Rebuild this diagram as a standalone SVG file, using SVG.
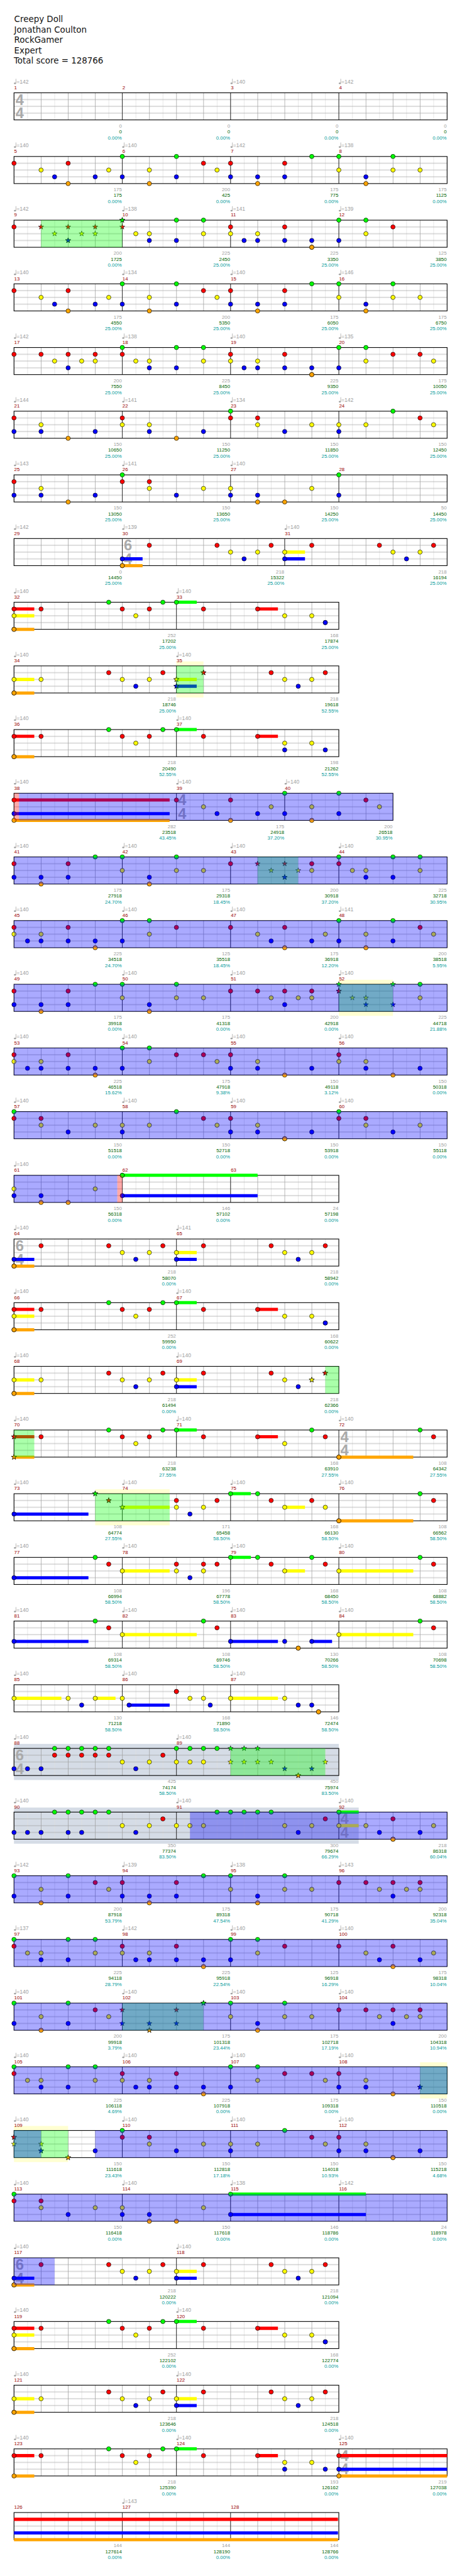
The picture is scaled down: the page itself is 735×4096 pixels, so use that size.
<svg xmlns="http://www.w3.org/2000/svg" width="735" height="4096" viewBox="0 0 735 4096">
<defs>
<style>
text{font-family:"Liberation Sans",Arial,sans-serif}
.ti{font-family:"DejaVu Sans",Verdana,sans-serif;font-size:18.7px;fill:#111}
.tp{font-size:12px;fill:#a0a0a0}
.mn{font-size:11px;fill:#990000}
.s{font-size:11px;fill:#a0a0a0;text-anchor:end}
.s2{fill:#006400}
.s3{fill:#009a9a}
.ts{font-size:33px;font-weight:bold;fill:#aaa}
.st{fill:url(#grid);stroke:#000;stroke-width:1.5}
.ml{fill:none;stroke:#000;stroke-width:1}
.ob{fill:#00f;fill-opacity:.333}
.og{fill:#0f0;fill-opacity:.333}
.or{fill:#f00;fill-opacity:.333}
.by{fill:#ffffd2}
.bs{fill:#d5dce6}
.bw{fill:#fff}
.u{fill:none;stroke-width:7}
.uG{stroke:#0f0}.uR{stroke:#f00}.uY{stroke:#ff0}.uB{stroke:#00f}.uO{stroke:#ffa500}
polyline{fill:none;stroke:none}
.cg{marker-start:url(#mcg);marker-mid:url(#mcg);marker-end:url(#mcg)}
.cr{marker-start:url(#mcr);marker-mid:url(#mcr);marker-end:url(#mcr)}
.cy{marker-start:url(#mcy);marker-mid:url(#mcy);marker-end:url(#mcy)}
.cb{marker-start:url(#mcb);marker-mid:url(#mcb);marker-end:url(#mcb)}
.co{marker-start:url(#mco);marker-mid:url(#mco);marker-end:url(#mco)}
.sg{marker-start:url(#msg);marker-mid:url(#msg);marker-end:url(#msg)}
.sr{marker-start:url(#msr);marker-mid:url(#msr);marker-end:url(#msr)}
.sy{marker-start:url(#msy);marker-mid:url(#msy);marker-end:url(#msy)}
.sb{marker-start:url(#msb);marker-mid:url(#msb);marker-end:url(#msb)}
.so{marker-start:url(#mso);marker-mid:url(#mso);marker-end:url(#mso)}
</style>
<pattern id="grid" patternUnits="userSpaceOnUse" x="30.5" y="0" width="60" height="60">
<rect x="30" width="1" height="60" fill="#dedede"/>
<rect width="1" height="60" fill="#9a9a9a"/>
<rect y="14.5" width="60" height="1" fill="#a0a0a0"/>
<rect y="29.5" width="60" height="1" fill="#a0a0a0"/>
<rect y="44.5" width="60" height="1" fill="#a0a0a0"/>
</pattern>
<g id="q" fill="#a0a0a0"><ellipse cx="2.2" cy="-21" rx="2.4" ry="1.8"/><rect x="3.7" y="-31" width="1" height="10"/></g>
<polygon id="star" points="0,-6 1.41,-1.94 5.71,-1.85 2.28,0.74 3.53,4.85 0,2.4 -3.53,4.85 -2.28,0.74 -5.71,-1.85 -1.41,-1.94" stroke="#000" stroke-width=".8"/>
<marker id="mcg" markerUnits="userSpaceOnUse" markerWidth="14" markerHeight="14" refX="7" refY="7" overflow="visible"><circle cx="7" cy="7" r="4.8" fill="#0f0" stroke="#000" stroke-width=".9"/></marker>
<marker id="mcr" markerUnits="userSpaceOnUse" markerWidth="14" markerHeight="14" refX="7" refY="7" overflow="visible"><circle cx="7" cy="7" r="4.8" fill="#f00" stroke="#000" stroke-width=".9"/></marker>
<marker id="mcy" markerUnits="userSpaceOnUse" markerWidth="14" markerHeight="14" refX="7" refY="7" overflow="visible"><circle cx="7" cy="7" r="4.8" fill="#ff0" stroke="#000" stroke-width=".9"/></marker>
<marker id="mcb" markerUnits="userSpaceOnUse" markerWidth="14" markerHeight="14" refX="7" refY="7" overflow="visible"><circle cx="7" cy="7" r="4.8" fill="#00f" stroke="#000" stroke-width=".9"/></marker>
<marker id="mco" markerUnits="userSpaceOnUse" markerWidth="14" markerHeight="14" refX="7" refY="7" overflow="visible"><circle cx="7" cy="7" r="4.8" fill="#ffa500" stroke="#000" stroke-width=".9"/></marker>
<marker id="msg" markerUnits="userSpaceOnUse" markerWidth="14" markerHeight="14" refX="7" refY="7" overflow="visible"><use href="#star" x="7" y="7" fill="#0f0"/></marker>
<marker id="msr" markerUnits="userSpaceOnUse" markerWidth="14" markerHeight="14" refX="7" refY="7" overflow="visible"><use href="#star" x="7" y="7" fill="#f00"/></marker>
<marker id="msy" markerUnits="userSpaceOnUse" markerWidth="14" markerHeight="14" refX="7" refY="7" overflow="visible"><use href="#star" x="7" y="7" fill="#ff0"/></marker>
<marker id="msb" markerUnits="userSpaceOnUse" markerWidth="14" markerHeight="14" refX="7" refY="7" overflow="visible"><use href="#star" x="7" y="7" fill="#00f"/></marker>
<marker id="mso" markerUnits="userSpaceOnUse" markerWidth="14" markerHeight="14" refX="7" refY="7" overflow="visible"><use href="#star" x="7" y="7" fill="#ffa500"/></marker>
</defs>
<rect width="735" height="4096" fill="#fff"/>
<g transform="scale(0.71777,0.71809)">
<g id="title">
<text class="ti" x="31.5" y="49.3">Creepy Doll</text>
<text class="ti" x="31.5" y="72.3">Jonathan Coulton</text>
<text class="ti" x="31.5" y="95.3">RockGamer</text>
<text class="ti" x="31.5" y="118.3">Expert</text>
<text class="ti" x="30.5" y="141.3">Total score = 128766</text>
</g>

<g id="row1" transform="translate(0,205.5)">
<rect class="st" x="31" width="960" height="60"/>
<path class="ml" d="M271 0V60M511 0V60M751 0V60"/>
<text class="ts" x="34.5" y="26.5">4</text><text class="ts" x="34.5" y="56.5">4</text>
<use href="#q" x="31"/><use href="#q" x="511"/><use href="#q" x="751"/>
<text class="tp" y="-20.7"><tspan x="36.5">=142</tspan><tspan x="516.5">=140</tspan><tspan x="756.5">=142</tspan></text>
<text class="mn" y="-8"><tspan x="31.5">1</tspan><tspan x="271.5">2</tspan><tspan x="511.5">3</tspan><tspan x="751.5">4</tspan></text>
<text class="s" y="77"><tspan x="270">0</tspan><tspan x="510">0</tspan><tspan x="750">0</tspan><tspan x="990">0</tspan></text>
<text class="s s2" y="90"><tspan x="270">0</tspan><tspan x="510">0</tspan><tspan x="750">0</tspan><tspan x="990">0</tspan></text>
<text class="s s3" y="103"><tspan x="270">0.00%</tspan><tspan x="510">0.00%</tspan><tspan x="750">0.00%</tspan><tspan x="990">0.00%</tspan></text>
</g>

<g id="row2" transform="translate(0,346.5)">
<rect class="st" x="31" width="960" height="60"/>
<path class="ml" d="M271 0V60M511 0V60M751 0V60"/>
<polyline class="cg" points="271,0 391,0 691,0 751,0 871,0"/>
<polyline class="cr" points="31,15 151,15 451,15 511,15 631,15"/>
<polyline class="cy" points="91,30 241,30 331,30 481,30 751,30 871,30 931,30"/>
<polyline class="cb" points="121,45 211,45 271,45 391,45 511,45 571,45 631,45 811,45"/>
<polyline class="co" points="151,60 331,60 571,60 811,60"/>
<use href="#q" x="31"/><use href="#q" x="271"/><use href="#q" x="511"/><use href="#q" x="751"/>
<text class="tp" y="-20.7"><tspan x="36.5">=140</tspan><tspan x="276.5">=140</tspan><tspan x="516.5">=142</tspan><tspan x="756.5">=138</tspan></text>
<text class="mn" y="-8"><tspan x="31.5">5</tspan><tspan x="271.5">6</tspan><tspan x="511.5">7</tspan><tspan x="751.5">8</tspan></text>
<text class="s" y="77"><tspan x="270">175</tspan><tspan x="510">200</tspan><tspan x="750">175</tspan><tspan x="990">175</tspan></text>
<text class="s s2" y="90"><tspan x="270">175</tspan><tspan x="510">425</tspan><tspan x="750">775</tspan><tspan x="990">1125</tspan></text>
<text class="s s3" y="103"><tspan x="270">0.00%</tspan><tspan x="510">0.00%</tspan><tspan x="750">0.00%</tspan><tspan x="990">0.00%</tspan></text>
</g>

<g id="row3" transform="translate(0,487.5)">
<rect class="st" x="31" width="960" height="60"/>
<path class="ml" d="M271 0V60M511 0V60M751 0V60"/>
<polyline class="cg" points="391,0 451,0 751,0 811,0"/>
<polyline class="cr" points="31,15 511,15 631,15 871,15"/>
<polyline class="cy" points="301,30 331,30 451,30 511,30 571,30 811,30"/>
<polyline class="cb" points="331,45 391,45 541,45 571,45 631,45 691,45 751,45"/>
<polyline class="co" points="691,60 691,60"/>
<polyline class="sg" points="271,0 271,0"/>
<polyline class="sr" points="91,15 151,15 211,15 271,15"/>
<polyline class="sy" points="121,30 181,30 211,30"/>
<polyline class="sb" points="151,45 151,45"/>
<rect class="og" x="91" width="180" height="60"/>
<use href="#q" x="31"/><use href="#q" x="271"/><use href="#q" x="511"/><use href="#q" x="751"/>
<text class="tp" y="-20.7"><tspan x="36.5">=142</tspan><tspan x="276.5">=138</tspan><tspan x="516.5">=141</tspan><tspan x="756.5">=139</tspan></text>
<text class="mn" y="-8"><tspan x="31.5">9</tspan><tspan x="271.5">10</tspan><tspan x="511.5">11</tspan><tspan x="751.5">12</tspan></text>
<text class="s" y="77"><tspan x="270">200</tspan><tspan x="510">225</tspan><tspan x="750">225</tspan><tspan x="990">125</tspan></text>
<text class="s s2" y="90"><tspan x="270">1725</tspan><tspan x="510">2450</tspan><tspan x="750">3350</tspan><tspan x="990">3850</tspan></text>
<text class="s s3" y="103"><tspan x="270">0.00%</tspan><tspan x="510">25.00%</tspan><tspan x="750">25.00%</tspan><tspan x="990">25.00%</tspan></text>
</g>

<g id="row4" transform="translate(0,628.5)">
<rect class="st" x="31" width="960" height="60"/>
<path class="ml" d="M271 0V60M511 0V60M751 0V60"/>
<polyline class="cg" points="271,0 391,0 691,0 751,0 871,0"/>
<polyline class="cr" points="31,15 151,15 451,15 511,15 631,15"/>
<polyline class="cy" points="91,30 241,30 331,30 481,30 751,30 871,30 931,30"/>
<polyline class="cb" points="121,45 211,45 271,45 391,45 511,45 571,45 631,45 811,45"/>
<polyline class="co" points="151,60 331,60 571,60 811,60"/>
<use href="#q" x="31"/><use href="#q" x="271"/><use href="#q" x="511"/><use href="#q" x="751"/>
<text class="tp" y="-20.7"><tspan x="36.5">=140</tspan><tspan x="276.5">=134</tspan><tspan x="516.5">=140</tspan><tspan x="756.5">=146</tspan></text>
<text class="mn" y="-8"><tspan x="31.5">13</tspan><tspan x="271.5">14</tspan><tspan x="511.5">15</tspan><tspan x="751.5">16</tspan></text>
<text class="s" y="77"><tspan x="270">175</tspan><tspan x="510">200</tspan><tspan x="750">175</tspan><tspan x="990">175</tspan></text>
<text class="s s2" y="90"><tspan x="270">4550</tspan><tspan x="510">5350</tspan><tspan x="750">6050</tspan><tspan x="990">6750</tspan></text>
<text class="s s3" y="103"><tspan x="270">25.00%</tspan><tspan x="510">25.00%</tspan><tspan x="750">25.00%</tspan><tspan x="990">25.00%</tspan></text>
</g>

<g id="row5" transform="translate(0,769.5)">
<rect class="st" x="31" width="960" height="60"/>
<path class="ml" d="M271 0V60M511 0V60M751 0V60"/>
<polyline class="cg" points="271,0 391,0 451,0 751,0 811,0"/>
<polyline class="cr" points="31,15 91,15 151,15 211,15 271,15 511,15 631,15 871,15 931,15"/>
<polyline class="cy" points="121,30 181,30 211,30 301,30 331,30 451,30 511,30 571,30 811,30 961,30"/>
<polyline class="cb" points="151,45 331,45 391,45 541,45 571,45 631,45 691,45 751,45"/>
<polyline class="co" points="691,60 691,60"/>
<use href="#q" x="31"/><use href="#q" x="271"/><use href="#q" x="511"/><use href="#q" x="751"/>
<text class="tp" y="-20.7"><tspan x="36.5">=142</tspan><tspan x="276.5">=138</tspan><tspan x="516.5">=140</tspan><tspan x="756.5">=135</tspan></text>
<text class="mn" y="-8"><tspan x="31.5">17</tspan><tspan x="271.5">18</tspan><tspan x="511.5">19</tspan><tspan x="751.5">20</tspan></text>
<text class="s" y="77"><tspan x="270">200</tspan><tspan x="510">225</tspan><tspan x="750">225</tspan><tspan x="990">175</tspan></text>
<text class="s s2" y="90"><tspan x="270">7550</tspan><tspan x="510">8450</tspan><tspan x="750">9350</tspan><tspan x="990">10050</tspan></text>
<text class="s s3" y="103"><tspan x="270">25.00%</tspan><tspan x="510">25.00%</tspan><tspan x="750">25.00%</tspan><tspan x="990">25.00%</tspan></text>
</g>

<g id="row6" transform="translate(0,910.5)">
<rect class="st" x="31" width="960" height="60"/>
<path class="ml" d="M271 0V60M511 0V60M751 0V60"/>
<polyline class="cg" points="511,0 871,0"/>
<polyline class="cr" points="31,15 271,15 511,15 571,15 931,15"/>
<polyline class="cy" points="91,30 271,30 331,30 571,30 691,30 751,30 811,30 961,30"/>
<polyline class="cb" points="31,45 91,45 211,45 331,45 451,45 631,45 751,45"/>
<polyline class="co" points="151,60 391,60"/>
<use href="#q" x="31"/><use href="#q" x="271"/><use href="#q" x="511"/><use href="#q" x="751"/>
<text class="tp" y="-20.7"><tspan x="36.5">=144</tspan><tspan x="276.5">=141</tspan><tspan x="516.5">=134</tspan><tspan x="756.5">=142</tspan></text>
<text class="mn" y="-8"><tspan x="31.5">21</tspan><tspan x="271.5">22</tspan><tspan x="511.5">23</tspan><tspan x="751.5">24</tspan></text>
<text class="s" y="77"><tspan x="270">150</tspan><tspan x="510">150</tspan><tspan x="750">150</tspan><tspan x="990">150</tspan></text>
<text class="s s2" y="90"><tspan x="270">10650</tspan><tspan x="510">11250</tspan><tspan x="750">11850</tspan><tspan x="990">12450</tspan></text>
<text class="s s3" y="103"><tspan x="270">25.00%</tspan><tspan x="510">25.00%</tspan><tspan x="750">25.00%</tspan><tspan x="990">25.00%</tspan></text>
</g>

<g id="row7" transform="translate(0,1051.5)">
<rect class="st" x="31" width="960" height="60"/>
<path class="ml" d="M271 0V60M511 0V60M751 0V60"/>
<polyline class="cg" points="271,0 751,0"/>
<polyline class="cr" points="31,15 271,15 331,15"/>
<polyline class="cy" points="91,30 331,30 451,30 511,30 691,30"/>
<polyline class="cb" points="31,45 91,45 211,45 391,45 511,45 571,45 751,45"/>
<polyline class="co" points="151,60 571,60 631,60"/>
<use href="#q" x="31"/><use href="#q" x="271"/><use href="#q" x="511"/>
<text class="tp" y="-20.7"><tspan x="36.5">=143</tspan><tspan x="276.5">=141</tspan><tspan x="516.5">=140</tspan></text>
<text class="mn" y="-8"><tspan x="31.5">25</tspan><tspan x="271.5">26</tspan><tspan x="511.5">27</tspan><tspan x="751.5">28</tspan></text>
<text class="s" y="77"><tspan x="270">150</tspan><tspan x="510">150</tspan><tspan x="750">150</tspan><tspan x="990">50</tspan></text>
<text class="s s2" y="90"><tspan x="270">13050</tspan><tspan x="510">13650</tspan><tspan x="750">14250</tspan><tspan x="990">14450</tspan></text>
<text class="s s3" y="103"><tspan x="270">25.00%</tspan><tspan x="510">25.00%</tspan><tspan x="750">25.00%</tspan><tspan x="990">25.00%</tspan></text>
</g>

<g id="row8" transform="translate(0,1192.5)">
<rect class="st" x="31" width="960" height="60"/>
<path class="ml" d="M271 0V60M631 0V60"/>
<text class="ts" x="274.5" y="26.5">6</text><text class="ts" x="274.5" y="56.5">4</text>
<path class="u uY" d="M631 30h45"/>
<path class="u uB" d="M271 45h45M631 45h45"/>
<path class="u uO" d="M271 60h45"/>
<polyline class="cr" points="331,15 481,15 601,15 691,15 841,15 961,15"/>
<polyline class="cy" points="511,30 571,30 631,30 871,30 931,30"/>
<polyline class="cb" points="271,45 541,45 631,45 901,45"/>
<polyline class="co" points="271,60 271,60"/>
<use href="#q" x="31"/><use href="#q" x="271"/><use href="#q" x="631"/>
<text class="tp" y="-20.7"><tspan x="36.5">=142</tspan><tspan x="276.5">=139</tspan><tspan x="636.5">=140</tspan></text>
<text class="mn" y="-8"><tspan x="31.5">29</tspan><tspan x="271.5">30</tspan><tspan x="631.5">31</tspan></text>
<text class="s" y="77"><tspan x="270">0</tspan><tspan x="630">218</tspan><tspan x="990">218</tspan></text>
<text class="s s2" y="90"><tspan x="270">14450</tspan><tspan x="630">15322</tspan><tspan x="990">16194</tspan></text>
<text class="s s3" y="103"><tspan x="270">25.00%</tspan><tspan x="630">25.00%</tspan><tspan x="990">25.00%</tspan></text>
</g>

<g id="row9" transform="translate(0,1333.5)">
<rect class="st" x="31" width="720" height="60"/>
<path class="ml" d="M391 0V60"/>
<path class="u uG" d="M391 0h45"/>
<path class="u uR" d="M31 15h45M571 15h45"/>
<path class="u uY" d="M31 30h45"/>
<path class="u uO" d="M31 60h45"/>
<polyline class="cg" points="241,0 361,0 391,0"/>
<polyline class="cr" points="31,15 91,15 271,15 331,15 451,15 571,15"/>
<polyline class="cy" points="31,30 301,30 631,30 691,30"/>
<polyline class="cb" points="721,45 721,45"/>
<polyline class="co" points="31,60 31,60"/>
<use href="#q" x="31"/><use href="#q" x="391"/>
<text class="tp" y="-20.7"><tspan x="36.5">=140</tspan><tspan x="396.5">=140</tspan></text>
<text class="mn" y="-8"><tspan x="31.5">32</tspan><tspan x="391.5">33</tspan></text>
<text class="s" y="77"><tspan x="390">252</tspan><tspan x="750">168</tspan></text>
<text class="s s2" y="90"><tspan x="390">17202</tspan><tspan x="750">17874</tspan></text>
<text class="s s3" y="103"><tspan x="390">25.00%</tspan><tspan x="750">25.00%</tspan></text>
</g>

<g id="row10" transform="translate(0,1474.5)">
<rect class="by" x="391" y="-10" width="60" height="80"/>
<rect class="bw" x="391" width="60" height="60"/>
<rect class="st" x="31" width="720" height="60"/>
<path class="ml" d="M391 0V60"/>
<path class="u uY" d="M31 30h45M391 30h45"/>
<path class="u uB" d="M391 45h45"/>
<path class="u uO" d="M31 60h45"/>
<polyline class="cr" points="241,15 361,15 601,15 721,15"/>
<polyline class="cy" points="31,30 91,30 271,30 331,30 631,30 691,30"/>
<polyline class="cb" points="301,45 661,45"/>
<polyline class="co" points="31,60 31,60"/>
<polyline class="sr" points="451,15 451,15"/>
<polyline class="sy" points="391,30 391,30"/>
<polyline class="sb" points="391,45 391,45"/>
<rect class="og" x="391" width="60" height="60"/>
<use href="#q" x="31"/><use href="#q" x="391"/>
<text class="tp" y="-20.7"><tspan x="36.5">=140</tspan><tspan x="396.5">=140</tspan></text>
<text class="mn" y="-8"><tspan x="31.5">34</tspan><tspan x="391.5">35</tspan></text>
<text class="s" y="77"><tspan x="390">218</tspan><tspan x="750">218</tspan></text>
<text class="s s2" y="90"><tspan x="390">18746</tspan><tspan x="750">19618</tspan></text>
<text class="s s3" y="103"><tspan x="390">25.00%</tspan><tspan x="750">52.55%</tspan></text>
</g>

<g id="row11" transform="translate(0,1615.5)">
<rect class="st" x="31" width="720" height="60"/>
<path class="ml" d="M391 0V60"/>
<path class="u uG" d="M391 0h45"/>
<path class="u uR" d="M31 15h45M571 15h45"/>
<path class="u uO" d="M31 60h45"/>
<polyline class="cg" points="241,0 361,0 391,0"/>
<polyline class="cr" points="31,15 91,15 271,15 331,15 451,15 571,15"/>
<polyline class="cy" points="301,30 631,30 691,30"/>
<polyline class="cb" points="631,45 721,45"/>
<polyline class="co" points="31,60 31,60"/>
<use href="#q" x="31"/><use href="#q" x="391"/>
<text class="tp" y="-20.7"><tspan x="36.5">=140</tspan><tspan x="396.5">=140</tspan></text>
<text class="mn" y="-8"><tspan x="31.5">36</tspan><tspan x="391.5">37</tspan></text>
<text class="s" y="77"><tspan x="390">218</tspan><tspan x="750">198</tspan></text>
<text class="s s2" y="90"><tspan x="390">20490</tspan><tspan x="750">21262</tspan></text>
<text class="s s3" y="103"><tspan x="390">52.55%</tspan><tspan x="750">52.55%</tspan></text>
</g>

<g id="row12" transform="translate(0,1756.5)">
<rect class="st" x="31" width="840" height="60"/>
<path class="ml" d="M391 0V60M631 0V60"/>
<text class="ts" x="394.5" y="26.5">4</text><text class="ts" x="394.5" y="56.5">4</text>
<path class="u uR" d="M31 15h345"/>
<path class="u uB" d="M31 45h345"/>
<path class="u uO" d="M31 60h345"/>
<polyline class="cg" points="631,0 751,0"/>
<polyline class="cr" points="31,15 391,15 511,15 811,15"/>
<polyline class="cy" points="451,30 601,30 691,30 841,30"/>
<polyline class="cb" points="31,45 481,45 571,45 631,45 751,45"/>
<polyline class="co" points="31,60 511,60 691,60"/>
<rect class="or" x="31" width="11" height="60"/>
<rect class="ob" x="42" width="829" height="60"/>
<use href="#q" x="31"/><use href="#q" x="391"/><use href="#q" x="631"/>
<text class="tp" y="-20.7"><tspan x="36.5">=140</tspan><tspan x="396.5">=140</tspan><tspan x="636.5">=140</tspan></text>
<text class="mn" y="-8"><tspan x="31.5">38</tspan><tspan x="391.5">39</tspan><tspan x="631.5">40</tspan></text>
<text class="s" y="77"><tspan x="390">282</tspan><tspan x="630">175</tspan><tspan x="870">200</tspan></text>
<text class="s s2" y="90"><tspan x="390">23518</tspan><tspan x="630">24918</tspan><tspan x="870">26518</tspan></text>
<text class="s s3" y="103"><tspan x="390">43.45%</tspan><tspan x="630">37.20%</tspan><tspan x="870">30.95%</tspan></text>
</g>

<g id="row13" transform="translate(0,1897.5)">
<rect class="st" x="31" width="960" height="60"/>
<path class="ml" d="M271 0V60M511 0V60M751 0V60"/>
<polyline class="cg" points="211,0 271,0 391,0 751,0 871,0 931,0"/>
<polyline class="cr" points="31,15 151,15 511,15 691,15 751,15"/>
<polyline class="cy" points="271,30 391,30 451,30 691,30 781,30 811,30 931,30"/>
<polyline class="cb" points="31,45 91,45 151,45 331,45 811,45 871,45"/>
<polyline class="co" points="91,60 331,60"/>
<polyline class="sr" points="571,15 631,15"/>
<polyline class="sy" points="601,30 661,30"/>
<polyline class="sb" points="631,45 631,45"/>
<rect class="og" x="571" width="90" height="60"/>
<rect class="ob" x="31" width="960" height="60"/>
<use href="#q" x="31"/><use href="#q" x="271"/><use href="#q" x="511"/><use href="#q" x="751"/>
<text class="tp" y="-20.7"><tspan x="36.5">=140</tspan><tspan x="276.5">=140</tspan><tspan x="516.5">=140</tspan><tspan x="756.5">=140</tspan></text>
<text class="mn" y="-8"><tspan x="31.5">41</tspan><tspan x="271.5">42</tspan><tspan x="511.5">43</tspan><tspan x="751.5">44</tspan></text>
<text class="s" y="77"><tspan x="270">175</tspan><tspan x="510">175</tspan><tspan x="750">200</tspan><tspan x="990">225</tspan></text>
<text class="s s2" y="90"><tspan x="270">27918</tspan><tspan x="510">29318</tspan><tspan x="750">30918</tspan><tspan x="990">32718</tspan></text>
<text class="s s3" y="103"><tspan x="270">24.70%</tspan><tspan x="510">18.45%</tspan><tspan x="750">37.20%</tspan><tspan x="990">30.95%</tspan></text>
</g>

<g id="row14" transform="translate(0,2038.5)">
<rect class="st" x="31" width="960" height="60"/>
<path class="ml" d="M271 0V60M511 0V60M751 0V60"/>
<polyline class="cg" points="271,0 331,0 751,0 871,0"/>
<polyline class="cr" points="31,15 151,15 391,15 511,15 631,15 931,15"/>
<polyline class="cy" points="31,30 91,30 331,30 571,30 721,30 811,30 961,30"/>
<polyline class="cb" points="61,45 91,45 151,45 211,45 271,45 601,45 691,45 751,45 871,45"/>
<polyline class="co" points="211,60 631,60 811,60"/>
<rect class="ob" x="31" width="960" height="60"/>
<use href="#q" x="31"/><use href="#q" x="271"/><use href="#q" x="511"/><use href="#q" x="751"/>
<text class="tp" y="-20.7"><tspan x="36.5">=140</tspan><tspan x="276.5">=140</tspan><tspan x="516.5">=140</tspan><tspan x="756.5">=141</tspan></text>
<text class="mn" y="-8"><tspan x="31.5">45</tspan><tspan x="271.5">46</tspan><tspan x="511.5">47</tspan><tspan x="751.5">48</tspan></text>
<text class="s" y="77"><tspan x="270">225</tspan><tspan x="510">125</tspan><tspan x="750">175</tspan><tspan x="990">200</tspan></text>
<text class="s s2" y="90"><tspan x="270">34518</tspan><tspan x="510">35518</tspan><tspan x="750">36918</tspan><tspan x="990">38518</tspan></text>
<text class="s s3" y="103"><tspan x="270">24.70%</tspan><tspan x="510">18.45%</tspan><tspan x="750">12.20%</tspan><tspan x="990">5.95%</tspan></text>
</g>

<g id="row15" transform="translate(0,2179.5)">
<rect class="by" x="751" y="-10" width="120" height="80"/>
<rect class="bw" x="751" width="120" height="60"/>
<rect class="st" x="31" width="960" height="60"/>
<path class="ml" d="M271 0V60M511 0V60M751 0V60"/>
<polyline class="cg" points="211,0 271,0 391,0 931,0"/>
<polyline class="cr" points="31,15 151,15 511,15 571,15 631,15 691,15"/>
<polyline class="cy" points="271,30 391,30 451,30 601,30 661,30 691,30 931,30"/>
<polyline class="cb" points="31,45 91,45 151,45 331,45 631,45"/>
<polyline class="co" points="91,60 331,60"/>
<polyline class="sg" points="751,0 871,0"/>
<polyline class="sr" points="751,15 751,15"/>
<polyline class="sy" points="781,30 811,30"/>
<polyline class="sb" points="811,45 871,45"/>
<rect class="og" x="751" width="120" height="60"/>
<rect class="ob" x="31" width="960" height="60"/>
<use href="#q" x="31"/><use href="#q" x="271"/><use href="#q" x="511"/><use href="#q" x="751"/>
<text class="tp" y="-20.7"><tspan x="36.5">=140</tspan><tspan x="276.5">=140</tspan><tspan x="516.5">=140</tspan><tspan x="756.5">=140</tspan></text>
<text class="mn" y="-8"><tspan x="31.5">49</tspan><tspan x="271.5">50</tspan><tspan x="511.5">51</tspan><tspan x="751.5">52</tspan></text>
<text class="s" y="77"><tspan x="270">175</tspan><tspan x="510">175</tspan><tspan x="750">200</tspan><tspan x="990">225</tspan></text>
<text class="s s2" y="90"><tspan x="270">39918</tspan><tspan x="510">41318</tspan><tspan x="750">42918</tspan><tspan x="990">44718</tspan></text>
<text class="s s3" y="103"><tspan x="270">0.00%</tspan><tspan x="510">0.00%</tspan><tspan x="750">0.00%</tspan><tspan x="990">21.88%</tspan></text>
</g>

<g id="row16" transform="translate(0,2320.5)">
<rect class="st" x="31" width="960" height="60"/>
<path class="ml" d="M271 0V60M511 0V60M751 0V60"/>
<polyline class="cg" points="271,0 331,0"/>
<polyline class="cr" points="31,15 151,15 391,15 451,15 511,15 751,15"/>
<polyline class="cy" points="31,30 91,30 331,30 481,30 571,30 751,30 811,30"/>
<polyline class="cb" points="61,45 91,45 151,45 211,45 271,45 511,45 571,45 691,45 811,45 931,45"/>
<polyline class="co" points="211,60 631,60 871,60"/>
<rect class="ob" x="31" width="960" height="60"/>
<use href="#q" x="31"/><use href="#q" x="271"/><use href="#q" x="511"/><use href="#q" x="751"/>
<text class="tp" y="-20.7"><tspan x="36.5">=140</tspan><tspan x="276.5">=140</tspan><tspan x="516.5">=140</tspan><tspan x="756.5">=140</tspan></text>
<text class="mn" y="-8"><tspan x="31.5">53</tspan><tspan x="271.5">54</tspan><tspan x="511.5">55</tspan><tspan x="751.5">56</tspan></text>
<text class="s" y="77"><tspan x="270">225</tspan><tspan x="510">175</tspan><tspan x="750">150</tspan><tspan x="990">150</tspan></text>
<text class="s s2" y="90"><tspan x="270">46518</tspan><tspan x="510">47918</tspan><tspan x="750">49118</tspan><tspan x="990">50318</tspan></text>
<text class="s s3" y="103"><tspan x="270">15.62%</tspan><tspan x="510">9.38%</tspan><tspan x="750">3.12%</tspan><tspan x="990">0.00%</tspan></text>
</g>

<g id="row17" transform="translate(0,2461.5)">
<rect class="st" x="31" width="960" height="60"/>
<path class="ml" d="M271 0V60M511 0V60M751 0V60"/>
<polyline class="cg" points="31,0 391,0 751,0"/>
<polyline class="cr" points="31,15 91,15 451,15 511,15 751,15 811,15"/>
<polyline class="cy" points="91,30 211,30 271,30 331,30 481,30 571,30 811,30 931,30"/>
<polyline class="cb" points="151,45 271,45 511,45 571,45 691,45 871,45"/>
<polyline class="co" points="631,60 631,60"/>
<rect class="ob" x="31" width="960" height="60"/>
<use href="#q" x="31"/><use href="#q" x="271"/><use href="#q" x="511"/><use href="#q" x="751"/>
<text class="tp" y="-20.7"><tspan x="36.5">=140</tspan><tspan x="276.5">=140</tspan><tspan x="516.5">=140</tspan><tspan x="756.5">=140</tspan></text>
<text class="mn" y="-8"><tspan x="31.5">57</tspan><tspan x="271.5">58</tspan><tspan x="511.5">59</tspan><tspan x="751.5">60</tspan></text>
<text class="s" y="77"><tspan x="270">150</tspan><tspan x="510">150</tspan><tspan x="750">150</tspan><tspan x="990">150</tspan></text>
<text class="s s2" y="90"><tspan x="270">51518</tspan><tspan x="510">52718</tspan><tspan x="750">53918</tspan><tspan x="990">55118</tspan></text>
<text class="s s3" y="103"><tspan x="270">0.00%</tspan><tspan x="510">0.00%</tspan><tspan x="750">0.00%</tspan><tspan x="990">0.00%</tspan></text>
</g>

<g id="row18" transform="translate(0,2602.5)">
<rect class="st" x="31" width="720" height="60"/>
<path class="ml" d="M271 0V60M511 0V60"/>
<path class="u uG" d="M271 0h300"/>
<path class="u uB" d="M271 45h300"/>
<polyline class="cg" points="271,0 271,0"/>
<polyline class="cy" points="31,30 211,30"/>
<polyline class="cb" points="31,45 91,45 271,45"/>
<polyline class="co" points="91,60 151,60"/>
<rect class="ob" x="31" width="229" height="60"/>
<rect class="or" x="260" width="11" height="60"/>
<use href="#q" x="31"/>
<text class="tp" y="-20.7"><tspan x="36.5">=140</tspan></text>
<text class="mn" y="-8"><tspan x="31.5">61</tspan><tspan x="271.5">62</tspan><tspan x="511.5">63</tspan></text>
<text class="s" y="77"><tspan x="270">150</tspan><tspan x="510">146</tspan><tspan x="750">24</tspan></text>
<text class="s s2" y="90"><tspan x="270">56318</tspan><tspan x="510">57102</tspan><tspan x="750">57198</tspan></text>
<text class="s s3" y="103"><tspan x="270">0.00%</tspan><tspan x="510">0.00%</tspan><tspan x="750">0.00%</tspan></text>
</g>

<g id="row19" transform="translate(0,2743.5)">
<rect class="st" x="31" width="720" height="60"/>
<path class="ml" d="M391 0V60"/>
<text class="ts" x="34.5" y="26.5">6</text><text class="ts" x="34.5" y="56.5">4</text>
<path class="u uY" d="M391 30h45"/>
<path class="u uB" d="M31 45h45M391 45h45"/>
<path class="u uO" d="M31 60h45"/>
<polyline class="cr" points="91,15 241,15 361,15 451,15 601,15 721,15"/>
<polyline class="cy" points="271,30 331,30 391,30 631,30 691,30"/>
<polyline class="cb" points="31,45 301,45 391,45 661,45"/>
<polyline class="co" points="31,60 31,60"/>
<use href="#q" x="31"/><use href="#q" x="391"/>
<text class="tp" y="-20.7"><tspan x="36.5">=140</tspan><tspan x="396.5">=141</tspan></text>
<text class="mn" y="-8"><tspan x="31.5">64</tspan><tspan x="391.5">65</tspan></text>
<text class="s" y="77"><tspan x="390">218</tspan><tspan x="750">218</tspan></text>
<text class="s s2" y="90"><tspan x="390">58070</tspan><tspan x="750">58942</tspan></text>
<text class="s s3" y="103"><tspan x="390">0.00%</tspan><tspan x="750">0.00%</tspan></text>
</g>

<g id="row20" transform="translate(0,2884.5)">
<rect class="st" x="31" width="720" height="60"/>
<path class="ml" d="M391 0V60"/>
<path class="u uG" d="M391 0h45"/>
<path class="u uR" d="M31 15h45M571 15h45"/>
<path class="u uY" d="M31 30h45"/>
<path class="u uO" d="M31 60h45"/>
<polyline class="cg" points="241,0 361,0 391,0"/>
<polyline class="cr" points="31,15 91,15 271,15 331,15 451,15 571,15"/>
<polyline class="cy" points="31,30 301,30 631,30 691,30"/>
<polyline class="cb" points="721,45 721,45"/>
<polyline class="co" points="31,60 31,60"/>
<use href="#q" x="31"/><use href="#q" x="391"/>
<text class="tp" y="-20.7"><tspan x="36.5">=140</tspan><tspan x="396.5">=140</tspan></text>
<text class="mn" y="-8"><tspan x="31.5">66</tspan><tspan x="391.5">67</tspan></text>
<text class="s" y="77"><tspan x="390">252</tspan><tspan x="750">168</tspan></text>
<text class="s s2" y="90"><tspan x="390">59950</tspan><tspan x="750">60622</tspan></text>
<text class="s s3" y="103"><tspan x="390">0.00%</tspan><tspan x="750">0.00%</tspan></text>
</g>

<g id="row21" transform="translate(0,3025.5)">
<rect class="st" x="31" width="720" height="60"/>
<path class="ml" d="M391 0V60"/>
<path class="u uY" d="M31 30h45M391 30h45"/>
<path class="u uB" d="M391 45h45"/>
<path class="u uO" d="M31 60h45"/>
<polyline class="cr" points="241,15 361,15 451,15 601,15"/>
<polyline class="cy" points="31,30 91,30 271,30 331,30 391,30 631,30"/>
<polyline class="cb" points="301,45 391,45 661,45"/>
<polyline class="co" points="31,60 31,60"/>
<polyline class="sr" points="721,15 721,15"/>
<polyline class="sy" points="691,30 691,30"/>
<rect class="og" x="721" width="30" height="60"/>
<use href="#q" x="31"/><use href="#q" x="391"/>
<text class="tp" y="-20.7"><tspan x="36.5">=140</tspan><tspan x="396.5">=140</tspan></text>
<text class="mn" y="-8"><tspan x="31.5">68</tspan><tspan x="391.5">69</tspan></text>
<text class="s" y="77"><tspan x="390">218</tspan><tspan x="750">218</tspan></text>
<text class="s s2" y="90"><tspan x="390">61494</tspan><tspan x="750">62366</tspan></text>
<text class="s s3" y="103"><tspan x="390">0.00%</tspan><tspan x="750">0.00%</tspan></text>
</g>

<g id="row22" transform="translate(0,3166.5)">
<rect class="st" x="31" width="960" height="60"/>
<path class="ml" d="M391 0V60M751 0V60"/>
<text class="ts" x="754.5" y="26.5">4</text><text class="ts" x="754.5" y="56.5">4</text>
<path class="u uG" d="M391 0h45"/>
<path class="u uR" d="M31 15h45M571 15h45"/>
<path class="u uO" d="M31 60h45M751 60h165"/>
<polyline class="cg" points="241,0 361,0 391,0 691,0 931,0"/>
<polyline class="cr" points="91,15 271,15 331,15 451,15 571,15 721,15 961,15"/>
<polyline class="cy" points="301,30 631,30"/>
<polyline class="co" points="751,60 751,60"/>
<polyline class="sr" points="31,15 31,15"/>
<polyline class="so" points="31,60 31,60"/>
<rect class="og" x="31" width="45" height="60"/>
<use href="#q" x="31"/><use href="#q" x="391"/><use href="#q" x="751"/>
<text class="tp" y="-20.7"><tspan x="36.5">=140</tspan><tspan x="396.5">=140</tspan><tspan x="756.5">=140</tspan></text>
<text class="mn" y="-8"><tspan x="31.5">70</tspan><tspan x="391.5">71</tspan><tspan x="751.5">72</tspan></text>
<text class="s" y="77"><tspan x="390">218</tspan><tspan x="750">168</tspan><tspan x="990">108</tspan></text>
<text class="s s2" y="90"><tspan x="390">63238</tspan><tspan x="750">63910</tspan><tspan x="990">64342</tspan></text>
<text class="s s3" y="103"><tspan x="390">27.55%</tspan><tspan x="750">27.55%</tspan><tspan x="990">27.55%</tspan></text>
</g>

<g id="row23" transform="translate(0,3307.5)">
<rect class="by" x="211" y="-10" width="165" height="80"/>
<rect class="bw" x="211" width="165" height="60"/>
<rect class="st" x="31" width="960" height="60"/>
<path class="ml" d="M271 0V60M511 0V60M751 0V60"/>
<path class="u uG" d="M511 0h45"/>
<path class="u uY" d="M271 30h105M631 30h45"/>
<path class="u uB" d="M31 45h165"/>
<path class="u uO" d="M751 60h165"/>
<polyline class="cg" points="511,0 571,0 931,0"/>
<polyline class="cr" points="391,15 481,15 601,15 691,15 961,15"/>
<polyline class="cy" points="391,30 451,30 631,30 721,30"/>
<polyline class="cb" points="31,45 421,45"/>
<polyline class="co" points="751,60 751,60"/>
<polyline class="sg" points="211,0 211,0"/>
<polyline class="sr" points="241,15 241,15"/>
<polyline class="sy" points="271,30 271,30"/>
<rect class="og" x="211" width="165" height="60"/>
<use href="#q" x="31"/><use href="#q" x="271"/><use href="#q" x="511"/><use href="#q" x="751"/>
<text class="tp" y="-20.7"><tspan x="36.5">=140</tspan><tspan x="276.5">=140</tspan><tspan x="516.5">=140</tspan><tspan x="756.5">=140</tspan></text>
<text class="mn" y="-8"><tspan x="31.5">73</tspan><tspan x="271.5">74</tspan><tspan x="511.5">75</tspan><tspan x="751.5">76</tspan></text>
<text class="s" y="77"><tspan x="270">108</tspan><tspan x="510">171</tspan><tspan x="750">168</tspan><tspan x="990">108</tspan></text>
<text class="s s2" y="90"><tspan x="270">64774</tspan><tspan x="510">65458</tspan><tspan x="750">66130</tspan><tspan x="990">66562</tspan></text>
<text class="s s3" y="103"><tspan x="270">27.55%</tspan><tspan x="510">58.50%</tspan><tspan x="750">58.50%</tspan><tspan x="990">58.50%</tspan></text>
</g>

<g id="row24" transform="translate(0,3448.5)">
<rect class="st" x="31" width="960" height="60"/>
<path class="ml" d="M271 0V60M511 0V60M751 0V60"/>
<path class="u uG" d="M511 0h45"/>
<path class="u uY" d="M271 30h105M631 30h45M751 30h165"/>
<path class="u uB" d="M31 45h165"/>
<polyline class="cg" points="211,0 511,0 571,0 691,0 931,0"/>
<polyline class="cr" points="241,15 391,15 451,15 481,15 601,15 721,15 961,15"/>
<polyline class="cy" points="271,30 391,30 451,30 631,30 751,30"/>
<polyline class="cb" points="31,45 421,45"/>
<use href="#q" x="31"/><use href="#q" x="271"/><use href="#q" x="511"/><use href="#q" x="751"/>
<text class="tp" y="-20.7"><tspan x="36.5">=140</tspan><tspan x="276.5">=140</tspan><tspan x="516.5">=140</tspan><tspan x="756.5">=140</tspan></text>
<text class="mn" y="-8"><tspan x="31.5">77</tspan><tspan x="271.5">78</tspan><tspan x="511.5">79</tspan><tspan x="751.5">80</tspan></text>
<text class="s" y="77"><tspan x="270">108</tspan><tspan x="510">196</tspan><tspan x="750">168</tspan><tspan x="990">108</tspan></text>
<text class="s s2" y="90"><tspan x="270">66994</tspan><tspan x="510">67778</tspan><tspan x="750">68450</tspan><tspan x="990">68882</tspan></text>
<text class="s s3" y="103"><tspan x="270">58.50%</tspan><tspan x="510">58.50%</tspan><tspan x="750">58.50%</tspan><tspan x="990">58.50%</tspan></text>
</g>

<g id="row25" transform="translate(0,3589.5)">
<rect class="st" x="31" width="960" height="60"/>
<path class="ml" d="M271 0V60M511 0V60M751 0V60"/>
<path class="u uY" d="M271 30h165M751 30h165"/>
<path class="u uB" d="M31 45h165M511 45h105M691 45h45"/>
<polyline class="cg" points="211,0 451,0 931,0"/>
<polyline class="cr" points="241,15 481,15 961,15"/>
<polyline class="cy" points="271,30 751,30"/>
<polyline class="cb" points="31,45 511,45 631,45 691,45"/>
<polyline class="co" points="661,60 661,60"/>
<use href="#q" x="31"/><use href="#q" x="271"/><use href="#q" x="511"/><use href="#q" x="751"/>
<text class="tp" y="-20.7"><tspan x="36.5">=140</tspan><tspan x="276.5">=140</tspan><tspan x="516.5">=140</tspan><tspan x="756.5">=140</tspan></text>
<text class="mn" y="-8"><tspan x="31.5">81</tspan><tspan x="271.5">82</tspan><tspan x="511.5">83</tspan><tspan x="751.5">84</tspan></text>
<text class="s" y="77"><tspan x="270">108</tspan><tspan x="510">108</tspan><tspan x="750">130</tspan><tspan x="990">108</tspan></text>
<text class="s s2" y="90"><tspan x="270">69314</tspan><tspan x="510">69746</tspan><tspan x="750">70266</tspan><tspan x="990">70698</tspan></text>
<text class="s s3" y="103"><tspan x="270">58.50%</tspan><tspan x="510">58.50%</tspan><tspan x="750">58.50%</tspan><tspan x="990">58.50%</tspan></text>
</g>

<g id="row26" transform="translate(0,3730.5)">
<rect class="st" x="31" width="720" height="60"/>
<path class="ml" d="M271 0V60M511 0V60"/>
<path class="u uY" d="M31 30h105M211 30h45M511 30h105"/>
<path class="u uB" d="M286 45h90"/>
<polyline class="cr" points="391,15 391,15"/>
<polyline class="cy" points="31,30 151,30 211,30 271,30 421,30 451,30 511,30 631,30"/>
<polyline class="cb" points="181,45 286,45 466,45 661,45 691,45"/>
<polyline class="co" points="706,60 706,60"/>
<use href="#q" x="31"/><use href="#q" x="271"/><use href="#q" x="511"/>
<text class="tp" y="-20.7"><tspan x="36.5">=140</tspan><tspan x="276.5">=140</tspan><tspan x="516.5">=140</tspan></text>
<text class="mn" y="-8"><tspan x="31.5">85</tspan><tspan x="271.5">86</tspan><tspan x="511.5">87</tspan></text>
<text class="s" y="77"><tspan x="270">130</tspan><tspan x="510">168</tspan><tspan x="750">146</tspan></text>
<text class="s s2" y="90"><tspan x="270">71218</tspan><tspan x="510">71890</tspan><tspan x="750">72474</tspan></text>
<text class="s s3" y="103"><tspan x="270">58.50%</tspan><tspan x="510">58.50%</tspan><tspan x="750">58.50%</tspan></text>
</g>

<g id="row27" transform="translate(0,3871.5)">
<rect class="bs" x="31" y="-10" width="720" height="80"/>
<rect class="st" x="31" width="720" height="60"/>
<path class="ml" d="M391 0V60"/>
<text class="ts" x="34.5" y="26.5">6</text><text class="ts" x="34.5" y="56.5">4</text>
<polyline class="cg" points="121,0 151,0 181,0 211,0 241,0 391,0 421,0 451,0 481,0"/>
<polyline class="cr" points="121,15 151,15 181,15 211,15 241,15 361,15"/>
<polyline class="cy" points="271,30 331,30 391,30 421,30 451,30"/>
<polyline class="cb" points="31,45 61,45 91,45 301,45"/>
<polyline class="sg" points="511,0 541,0 571,0"/>
<polyline class="sy" points="511,30 541,30 571,30 601,30 721,30"/>
<polyline class="sb" points="631,45 691,45"/>
<polyline class="so" points="661,60 661,60"/>
<rect class="og" x="511" width="210" height="60"/>
<use href="#q" x="31"/><use href="#q" x="391"/>
<text class="tp" y="-20.7"><tspan x="36.5">=140</tspan><tspan x="396.5">=140</tspan></text>
<text class="mn" y="-8"><tspan x="31.5">88</tspan><tspan x="391.5">89</tspan></text>
<text class="s" y="77"><tspan x="390">425</tspan><tspan x="750">450</tspan></text>
<text class="s s2" y="90"><tspan x="390">74174</tspan><tspan x="750">75974</tspan></text>
<text class="s s3" y="103"><tspan x="390">58.50%</tspan><tspan x="750">83.50%</tspan></text>
</g>

<g id="row28" transform="translate(0,4012.5)">
<rect class="bs" x="31" y="-10" width="764" height="80"/>
<rect class="st" x="31" width="960" height="60"/>
<path class="ml" d="M391 0V60M751 0V60"/>
<text class="ts" x="754.5" y="26.5">4</text><text class="ts" x="754.5" y="56.5">4</text>
<path class="u uG" d="M751 0h44"/>
<path class="u uY" d="M751 30h44"/>
<polyline class="cg" points="121,0 151,0 181,0 211,0 241,0 481,0 511,0 541,0 571,0 601,0 751,0"/>
<polyline class="cr" points="361,15 721,15 871,15"/>
<polyline class="cy" points="271,30 331,30 391,30 421,30 451,30 631,30 691,30 751,30 811,30 961,30"/>
<polyline class="cb" points="31,45 61,45 91,45 151,45 181,45 301,45 661,45 841,45 931,45"/>
<polyline class="co" points="871,60 871,60"/>
<rect class="ob" x="421" width="570" height="60"/>
<use href="#q" x="31"/><use href="#q" x="391"/><use href="#q" x="751"/>
<text class="tp" y="-20.7"><tspan x="36.5">=140</tspan><tspan x="396.5">=140</tspan><tspan x="756.5">=140</tspan></text>
<text class="mn" y="-8"><tspan x="31.5">90</tspan><tspan x="391.5">91</tspan><tspan x="751.5">92</tspan></text>
<text class="s" y="77"><tspan x="390">350</tspan><tspan x="750">300</tspan><tspan x="990">218</tspan></text>
<text class="s s2" y="90"><tspan x="390">77374</tspan><tspan x="750">79674</tspan><tspan x="990">86318</tspan></text>
<text class="s s3" y="103"><tspan x="390">83.50%</tspan><tspan x="750">66.29%</tspan><tspan x="990">60.04%</tspan></text>
</g>

<g id="row29" transform="translate(0,4153.5)">
<rect class="st" x="31" width="960" height="60"/>
<path class="ml" d="M271 0V60M511 0V60M751 0V60"/>
<polyline class="cg" points="31,0 151,0 451,0 511,0 631,0"/>
<polyline class="cr" points="211,15 271,15 391,15 751,15 811,15 871,15 931,15"/>
<polyline class="cy" points="91,30 241,30 511,30 631,30 691,30 841,30 901,30 931,30"/>
<polyline class="cb" points="31,45 151,45 271,45 331,45 391,45 571,45 871,45"/>
<polyline class="co" points="91,60 331,60 571,60"/>
<rect class="ob" x="31" width="960" height="60"/>
<use href="#q" x="31"/><use href="#q" x="271"/><use href="#q" x="511"/><use href="#q" x="751"/>
<text class="tp" y="-20.7"><tspan x="36.5">=142</tspan><tspan x="276.5">=139</tspan><tspan x="516.5">=138</tspan><tspan x="756.5">=143</tspan></text>
<text class="mn" y="-8"><tspan x="31.5">93</tspan><tspan x="271.5">94</tspan><tspan x="511.5">95</tspan><tspan x="751.5">96</tspan></text>
<text class="s" y="77"><tspan x="270">200</tspan><tspan x="510">175</tspan><tspan x="750">175</tspan><tspan x="990">200</tspan></text>
<text class="s s2" y="90"><tspan x="270">87918</tspan><tspan x="510">89318</tspan><tspan x="750">90718</tspan><tspan x="990">92318</tspan></text>
<text class="s s3" y="103"><tspan x="270">53.79%</tspan><tspan x="510">47.54%</tspan><tspan x="750">41.29%</tspan><tspan x="990">35.04%</tspan></text>
</g>

<g id="row30" transform="translate(0,4294.5)">
<rect class="st" x="31" width="960" height="60"/>
<path class="ml" d="M271 0V60M511 0V60M751 0V60"/>
<polyline class="cg" points="31,0 151,0 211,0 511,0 571,0"/>
<polyline class="cr" points="31,15 271,15 391,15 631,15 751,15 871,15"/>
<polyline class="cy" points="61,30 91,30 211,30 271,30 331,30 571,30 811,30 961,30"/>
<polyline class="cb" points="91,45 151,45 301,45 331,45 391,45 451,45 511,45 841,45 931,45"/>
<polyline class="co" points="451,60 871,60"/>
<rect class="ob" x="31" width="960" height="60"/>
<use href="#q" x="31"/><use href="#q" x="271"/><use href="#q" x="511"/><use href="#q" x="751"/>
<text class="tp" y="-20.7"><tspan x="36.5">=137</tspan><tspan x="276.5">=142</tspan><tspan x="516.5">=140</tspan><tspan x="756.5">=140</tspan></text>
<text class="mn" y="-8"><tspan x="31.5">97</tspan><tspan x="271.5">98</tspan><tspan x="511.5">99</tspan><tspan x="751.5">100</tspan></text>
<text class="s" y="77"><tspan x="270">225</tspan><tspan x="510">225</tspan><tspan x="750">125</tspan><tspan x="990">175</tspan></text>
<text class="s s2" y="90"><tspan x="270">94118</tspan><tspan x="510">95918</tspan><tspan x="750">96918</tspan><tspan x="990">98318</tspan></text>
<text class="s s3" y="103"><tspan x="270">28.79%</tspan><tspan x="510">22.54%</tspan><tspan x="750">16.29%</tspan><tspan x="990">10.04%</tspan></text>
</g>

<g id="row31" transform="translate(0,4435.5)">
<rect class="st" x="31" width="960" height="60"/>
<path class="ml" d="M271 0V60M511 0V60M751 0V60"/>
<polyline class="cg" points="31,0 151,0 511,0 631,0"/>
<polyline class="cr" points="211,15 751,15 811,15 871,15 931,15"/>
<polyline class="cy" points="91,30 241,30 511,30 631,30 691,30 841,30 901,30 931,30"/>
<polyline class="cb" points="31,45 151,45 571,45 871,45"/>
<polyline class="co" points="91,60 571,60"/>
<polyline class="sg" points="451,0 451,0"/>
<polyline class="sr" points="271,15 391,15"/>
<polyline class="sb" points="271,45 331,45 391,45"/>
<polyline class="so" points="331,60 331,60"/>
<rect class="og" x="271" width="180" height="60"/>
<rect class="ob" x="31" width="960" height="60"/>
<use href="#q" x="31"/><use href="#q" x="271"/><use href="#q" x="511"/><use href="#q" x="751"/>
<text class="tp" y="-20.7"><tspan x="36.5">=140</tspan><tspan x="276.5">=140</tspan><tspan x="516.5">=140</tspan><tspan x="756.5">=140</tspan></text>
<text class="mn" y="-8"><tspan x="31.5">101</tspan><tspan x="271.5">102</tspan><tspan x="511.5">103</tspan><tspan x="751.5">104</tspan></text>
<text class="s" y="77"><tspan x="270">200</tspan><tspan x="510">175</tspan><tspan x="750">175</tspan><tspan x="990">200</tspan></text>
<text class="s s2" y="90"><tspan x="270">99918</tspan><tspan x="510">101318</tspan><tspan x="750">102718</tspan><tspan x="990">104318</tspan></text>
<text class="s s3" y="103"><tspan x="270">3.79%</tspan><tspan x="510">23.44%</tspan><tspan x="750">17.19%</tspan><tspan x="990">10.94%</tspan></text>
</g>

<g id="row32" transform="translate(0,4576.5)">
<rect class="by" x="931" y="-10" width="60" height="80"/>
<rect class="bw" x="931" width="60" height="60"/>
<rect class="st" x="31" width="960" height="60"/>
<path class="ml" d="M271 0V60M511 0V60M751 0V60"/>
<polyline class="cg" points="31,0 151,0 211,0 511,0 571,0"/>
<polyline class="cr" points="31,15 271,15 391,15 631,15 691,15 751,15"/>
<polyline class="cy" points="61,30 91,30 211,30 271,30 331,30 571,30 721,30 811,30"/>
<polyline class="cb" points="91,45 151,45 301,45 331,45 391,45 451,45 511,45 751,45 811,45"/>
<polyline class="co" points="451,60 871,60"/>
<polyline class="sb" points="931,45 931,45"/>
<rect class="og" x="931" width="60" height="60"/>
<rect class="ob" x="31" width="960" height="60"/>
<use href="#q" x="31"/><use href="#q" x="271"/><use href="#q" x="511"/><use href="#q" x="751"/>
<text class="tp" y="-20.7"><tspan x="36.5">=140</tspan><tspan x="276.5">=140</tspan><tspan x="516.5">=140</tspan><tspan x="756.5">=140</tspan></text>
<text class="mn" y="-8"><tspan x="31.5">105</tspan><tspan x="271.5">106</tspan><tspan x="511.5">107</tspan><tspan x="751.5">108</tspan></text>
<text class="s" y="77"><tspan x="270">225</tspan><tspan x="510">225</tspan><tspan x="750">175</tspan><tspan x="990">150</tspan></text>
<text class="s s2" y="90"><tspan x="270">106118</tspan><tspan x="510">107918</tspan><tspan x="750">109318</tspan><tspan x="990">110518</tspan></text>
<text class="s s3" y="103"><tspan x="270">4.69%</tspan><tspan x="510">0.00%</tspan><tspan x="750">0.00%</tspan><tspan x="990">0.00%</tspan></text>
</g>

<g id="row33" transform="translate(0,4717.5)">
<rect class="by" x="31" y="-10" width="120" height="80"/>
<rect class="bw" x="31" width="120" height="60"/>
<rect class="st" x="31" width="960" height="60"/>
<path class="ml" d="M271 0V60M511 0V60M751 0V60"/>
<polyline class="cg" points="271,0 631,0"/>
<polyline class="cr" points="271,15 331,15 691,15 751,15"/>
<polyline class="cy" points="331,30 451,30 511,30 571,30 721,30 811,30"/>
<polyline class="cb" points="211,45 391,45 511,45 751,45 811,45 931,45"/>
<polyline class="co" points="871,60 871,60"/>
<polyline class="sr" points="31,15 31,15"/>
<polyline class="sy" points="31,30 91,30"/>
<polyline class="sb" points="91,45 91,45"/>
<polyline class="so" points="151,60 151,60"/>
<rect class="og" x="31" width="120" height="60"/>
<rect class="ob" x="31" width="60" height="60"/>
<rect class="ob" x="211" width="780" height="60"/>
<use href="#q" x="31"/><use href="#q" x="271"/><use href="#q" x="511"/><use href="#q" x="751"/>
<text class="tp" y="-20.7"><tspan x="36.5">=140</tspan><tspan x="276.5">=140</tspan><tspan x="516.5">=140</tspan><tspan x="756.5">=140</tspan></text>
<text class="mn" y="-8"><tspan x="31.5">109</tspan><tspan x="271.5">110</tspan><tspan x="511.5">111</tspan><tspan x="751.5">112</tspan></text>
<text class="s" y="77"><tspan x="270">150</tspan><tspan x="510">150</tspan><tspan x="750">150</tspan><tspan x="990">150</tspan></text>
<text class="s s2" y="90"><tspan x="270">111618</tspan><tspan x="510">112818</tspan><tspan x="750">114018</tspan><tspan x="990">115218</tspan></text>
<text class="s s3" y="103"><tspan x="270">23.43%</tspan><tspan x="510">17.18%</tspan><tspan x="750">10.93%</tspan><tspan x="990">4.68%</tspan></text>
</g>

<g id="row34" transform="translate(0,4858.5)">
<rect class="st" x="31" width="960" height="60"/>
<path class="ml" d="M271 0V60M511 0V60M751 0V60"/>
<path class="u uG" d="M511 0h300"/>
<path class="u uB" d="M511 45h300"/>
<polyline class="cg" points="31,0 511,0"/>
<polyline class="cr" points="31,15 91,15"/>
<polyline class="cy" points="91,30 211,30 271,30 451,30"/>
<polyline class="cb" points="151,45 271,45 331,45 511,45"/>
<polyline class="co" points="331,60 391,60"/>
<rect class="ob" x="31" width="960" height="60"/>
<use href="#q" x="31"/><use href="#q" x="271"/><use href="#q" x="511"/><use href="#q" x="751"/>
<text class="tp" y="-20.7"><tspan x="36.5">=140</tspan><tspan x="276.5">=140</tspan><tspan x="516.5">=138</tspan><tspan x="756.5">=142</tspan></text>
<text class="mn" y="-8"><tspan x="31.5">113</tspan><tspan x="271.5">114</tspan><tspan x="511.5">115</tspan><tspan x="751.5">116</tspan></text>
<text class="s" y="77"><tspan x="270">150</tspan><tspan x="510">150</tspan><tspan x="750">146</tspan><tspan x="990">24</tspan></text>
<text class="s s2" y="90"><tspan x="270">116418</tspan><tspan x="510">117618</tspan><tspan x="750">118786</tspan><tspan x="990">118978</tspan></text>
<text class="s s3" y="103"><tspan x="270">0.00%</tspan><tspan x="510">0.00%</tspan><tspan x="750">0.00%</tspan><tspan x="990">0.00%</tspan></text>
</g>

<g id="row35" transform="translate(0,4999.5)">
<rect class="st" x="31" width="720" height="60"/>
<path class="ml" d="M391 0V60"/>
<text class="ts" x="34.5" y="26.5">6</text><text class="ts" x="34.5" y="56.5">4</text>
<path class="u uY" d="M391 30h45"/>
<path class="u uB" d="M31 45h45M391 45h45"/>
<path class="u uO" d="M31 60h45"/>
<polyline class="cr" points="91,15 241,15 361,15 451,15 601,15 721,15"/>
<polyline class="cy" points="271,30 331,30 391,30 631,30 691,30"/>
<polyline class="cb" points="31,45 301,45 391,45 661,45"/>
<polyline class="co" points="31,60 31,60"/>
<rect class="ob" x="31" width="90" height="60"/>
<use href="#q" x="31"/><use href="#q" x="391"/>
<text class="tp" y="-20.7"><tspan x="36.5">=140</tspan><tspan x="396.5">=140</tspan></text>
<text class="mn" y="-8"><tspan x="31.5">117</tspan><tspan x="391.5">118</tspan></text>
<text class="s" y="77"><tspan x="390">218</tspan><tspan x="750">218</tspan></text>
<text class="s s2" y="90"><tspan x="390">120222</tspan><tspan x="750">121094</tspan></text>
<text class="s s3" y="103"><tspan x="390">0.00%</tspan><tspan x="750">0.00%</tspan></text>
</g>

<g id="row36" transform="translate(0,5140.5)">
<rect class="st" x="31" width="720" height="60"/>
<path class="ml" d="M391 0V60"/>
<path class="u uG" d="M391 0h45"/>
<path class="u uR" d="M31 15h45M571 15h45"/>
<path class="u uY" d="M31 30h45"/>
<path class="u uO" d="M31 60h45"/>
<polyline class="cg" points="241,0 361,0 391,0"/>
<polyline class="cr" points="31,15 91,15 271,15 331,15 451,15 571,15"/>
<polyline class="cy" points="31,30 301,30 631,30 691,30"/>
<polyline class="cb" points="721,45 721,45"/>
<polyline class="co" points="31,60 31,60"/>
<use href="#q" x="31"/><use href="#q" x="391"/>
<text class="tp" y="-20.7"><tspan x="36.5">=140</tspan><tspan x="396.5">=140</tspan></text>
<text class="mn" y="-8"><tspan x="31.5">119</tspan><tspan x="391.5">120</tspan></text>
<text class="s" y="77"><tspan x="390">252</tspan><tspan x="750">168</tspan></text>
<text class="s s2" y="90"><tspan x="390">122102</tspan><tspan x="750">122774</tspan></text>
<text class="s s3" y="103"><tspan x="390">0.00%</tspan><tspan x="750">0.00%</tspan></text>
</g>

<g id="row37" transform="translate(0,5281.5)">
<rect class="st" x="31" width="720" height="60"/>
<path class="ml" d="M391 0V60"/>
<path class="u uY" d="M31 30h45M391 30h45"/>
<path class="u uB" d="M391 45h45"/>
<path class="u uO" d="M31 60h45"/>
<polyline class="cr" points="241,15 361,15 451,15 601,15 721,15"/>
<polyline class="cy" points="31,30 91,30 271,30 331,30 391,30 631,30 691,30"/>
<polyline class="cb" points="301,45 391,45 661,45"/>
<polyline class="co" points="31,60 31,60"/>
<use href="#q" x="31"/><use href="#q" x="391"/>
<text class="tp" y="-20.7"><tspan x="36.5">=140</tspan><tspan x="396.5">=140</tspan></text>
<text class="mn" y="-8"><tspan x="31.5">121</tspan><tspan x="391.5">122</tspan></text>
<text class="s" y="77"><tspan x="390">218</tspan><tspan x="750">218</tspan></text>
<text class="s s2" y="90"><tspan x="390">123646</tspan><tspan x="750">124518</tspan></text>
<text class="s s3" y="103"><tspan x="390">0.00%</tspan><tspan x="750">0.00%</tspan></text>
</g>

<g id="row38" transform="translate(0,5422.5)">
<rect class="st" x="31" width="960" height="60"/>
<path class="ml" d="M391 0V60M751 0V60"/>
<text class="ts" x="754.5" y="26.5">4</text><text class="ts" x="754.5" y="56.5">4</text>
<path class="u uG" d="M391 0h45"/>
<path class="u uR" d="M31 15h45M571 15h45M751 15h240"/>
<path class="u uB" d="M751 45h240"/>
<path class="u uO" d="M31 60h45M751 60h240"/>
<polyline class="cg" points="241,0 361,0 391,0"/>
<polyline class="cr" points="31,15 91,15 271,15 331,15 451,15 571,15 751,15"/>
<polyline class="cy" points="301,30 631,30 691,30"/>
<polyline class="cb" points="631,45 721,45 751,45"/>
<polyline class="co" points="31,60 751,60"/>
<use href="#q" x="31"/><use href="#q" x="391"/><use href="#q" x="751"/>
<text class="tp" y="-20.7"><tspan x="36.5">=140</tspan><tspan x="396.5">=140</tspan><tspan x="756.5">=140</tspan></text>
<text class="mn" y="-8"><tspan x="31.5">123</tspan><tspan x="391.5">124</tspan><tspan x="751.5">125</tspan></text>
<text class="s" y="77"><tspan x="390">218</tspan><tspan x="750">193</tspan><tspan x="990">219</tspan></text>
<text class="s s2" y="90"><tspan x="390">125390</tspan><tspan x="750">126162</tspan><tspan x="990">127038</tspan></text>
<text class="s s3" y="103"><tspan x="390">0.00%</tspan><tspan x="750">0.00%</tspan><tspan x="990">0.00%</tspan></text>
</g>

<g id="row39" transform="translate(0,5563.5)">
<rect class="st" x="31" width="720" height="60"/>
<path class="ml" d="M271 0V60M511 0V60"/>
<path class="u uR" d="M31 15h718"/>
<path class="u uB" d="M31 45h718"/>
<path class="u uO" d="M31 60h718"/>
<use href="#q" x="271"/>
<text class="tp" y="-20.7"><tspan x="276.5">=143</tspan></text>
<text class="mn" y="-8"><tspan x="31.5">126</tspan><tspan x="271.5">127</tspan><tspan x="511.5">128</tspan></text>
<text class="s" y="77"><tspan x="270">144</tspan><tspan x="510">144</tspan><tspan x="750">144</tspan></text>
<text class="s s2" y="90"><tspan x="270">127614</tspan><tspan x="510">128190</tspan><tspan x="750">128766</tspan></text>
<text class="s s3" y="103"><tspan x="270">0.00%</tspan><tspan x="510">0.00%</tspan><tspan x="750">0.00%</tspan></text>
</g>
</g>
</svg>
